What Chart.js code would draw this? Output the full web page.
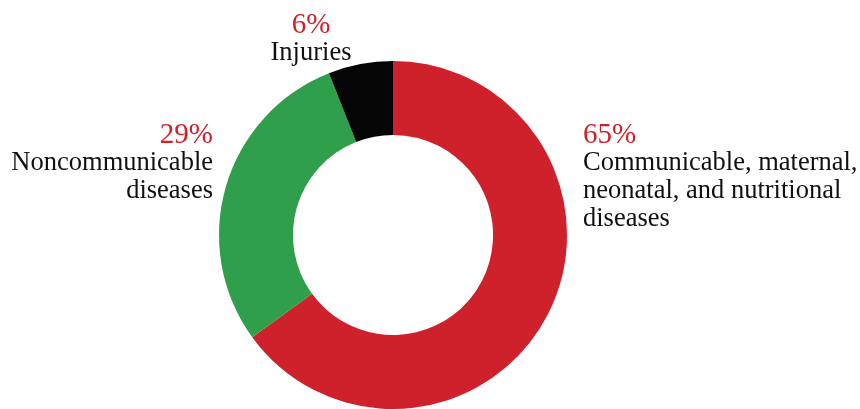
<!DOCTYPE html>
<html>
<head>
<meta charset="utf-8">
<script src="https://cdn.jsdelivr.net/npm/chart.js@4"></script>
<style>
  html, body { margin: 0; padding: 0; background: #fff; overflow: hidden; }
  #wrap { width: 860px; height: 409px; position: relative; }
</style>
</head>
<body>
<div id="wrap"><canvas id="myPieChart"></canvas></div>
<script>
// data
const categories = ['Communicable, maternal,\nneonatal, and nutritional\ndiseases', 'Noncommunicable\ndiseases', 'Injuries'];
const shares = [65, 29, 6];
const colors = ['#cf212c', '#309f4b', '#050505'];

const serif = '"Liberation Serif", "DejaVu Serif", serif';

// label placement next to each slice
const labelPos = [
  { x: 583, y: 143, align: 'left' },
  { x: 213, y: 143, align: 'right' },
  { x: 311, y: 33, align: 'center' }
];

const sliceLabels = {
  id: 'sliceLabels',
  afterDraw(chart) {
    const ctx = chart.ctx;
    ctx.save();
    ctx.textBaseline = 'alphabetic';
    shares.forEach((v, i) => {
      const p = labelPos[i];
      ctx.textAlign = p.align;
      ctx.fillStyle = '#cf212c';
      ctx.font = '29px ' + serif;
      ctx.fillText(v + '%', p.x, p.y);
      ctx.fillStyle = '#111';
      ctx.font = '26.5px ' + serif;
      categories[i].split('\n').forEach((line, j) => {
        ctx.fillText(line, p.x, p.y + 27 + j * 28);
      });
    });
    ctx.restore();
  }
};

window.onload = function () {
  const ctx = document.getElementById('myPieChart').getContext('2d');
  new Chart(ctx, {
    type: 'doughnut',
    data: {
      labels: categories,
      datasets: [{
        data: shares,
        backgroundColor: colors,
        borderWidth: 0
      }]
    },
    options: {
      responsive: true,
      maintainAspectRatio: false,
      animation: false,
      cutout: '57.5%',
      layout: { padding: { top: 61, bottom: 0, left: 0, right: 74 } },
      plugins: {
        legend: { display: false },
        tooltip: { enabled: false }
      }
    },
    plugins: [sliceLabels]
  });
};
</script>
</body>
</html>
